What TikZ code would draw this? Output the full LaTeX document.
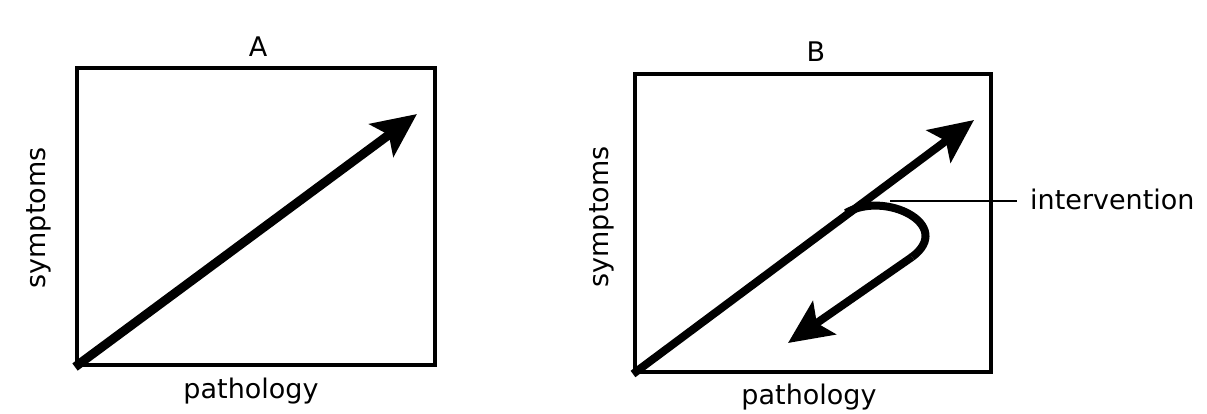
\documentclass[tikz,border=0pt]{standalone}
\usepackage{fontspec}
\setmainfont{DejaVu Sans}
\usepackage{tikz}
\usetikzlibrary{arrows.meta, positioning, calc}

\tikzset{
  plotframe/.style={draw=black, line width=4pt, rectangle, inner sep=0pt},
  growarrow/.style={line width=8pt, -{Stealth[length=44pt, width=40pt, inset=9pt]}},
  axislabel/.style={font=\fontsize{27}{31}\selectfont, inner sep=0pt},
}

\begin{document}
\begin{tikzpicture}[x=1pt, y=-1pt]
    \useasboundingbox (0,0) rectangle (1207,413);
    % panel A
    \node[plotframe, minimum width=358pt, minimum height=297pt, anchor=north west] (boxA) at (75,66) {};
    \node[axislabel] (titleA) at (258,47) {A};
    \node[axislabel] (xlabA) at (251,391) {pathology};
    \node[axislabel, rotate=90] (ylabA) at (39,218) {symptoms};
    \coordinate (tipA) at (417,114);
    \draw[growarrow, line width=9pt] (boxA.south west) -- (tipA);
    % panel B
    \node[plotframe, minimum width=356pt, minimum height=298pt, anchor=north west] (boxB) at (633,72) {};
    \node[axislabel] (titleB) at (816,52) {B};
    \node[axislabel] (xlabB) at (809,397) {pathology};
    \node[axislabel, rotate=90] (ylabB) at (602,217) {symptoms};
    \coordinate (tipB) at (974,120);
    \draw[growarrow] (boxB.south west) -- (tipB);
    % hook back down after the intervention
    \coordinate (hookstart) at (846,213);
    \coordinate (hookend) at (912,257);
    \coordinate (tipback) at (788,343);
    \draw[line width=8pt] (hookstart) .. controls (885,190) and (955,225) .. (hookend);
    \draw[growarrow] (hookend) -- (tipback);
    \node[axislabel, anchor=west] (interv) at (1030,199) {intervention};
    \coordinate (leadstart) at (890,201);
    \draw[line width=2pt, shorten >=13pt] (leadstart) -- (leadstart -| interv.west);
\end{tikzpicture}
\end{document}
